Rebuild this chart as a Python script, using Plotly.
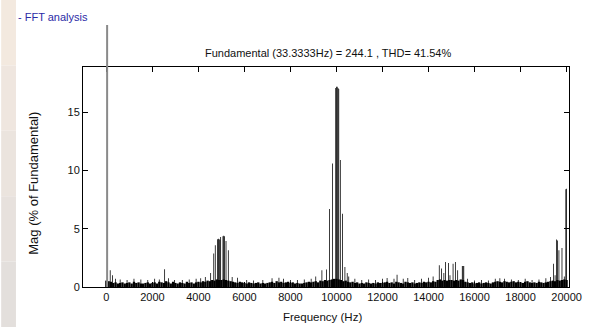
import plotly.graph_objects as go

# ---------------- data ----------------
FUND_FREQ = 33.3333
FUND_MAG = 100.0

# broadband noise floor, 100 Hz bins from 0 to 20000 Hz (% of fundamental)
floor_freq = [i * 100 for i in range(201)]
floor_mag = [
    0.55, 0.5, 0.45, 0.35, 0.4, 0.3, 0.35, 0.4, 0.3, 0.35,
    0.4, 0.3, 0.45, 0.35, 0.4, 0.3, 0.3, 0.35, 0.4, 0.3,
    0.35, 0.4, 0.3, 0.45, 0.4, 0.35, 0.5, 0.4, 0.3, 0.45,
    0.35, 0.3, 0.4, 0.35, 0.3, 0.45, 0.35, 0.4, 0.3, 0.4,
    0.45, 0.4, 0.5, 0.45, 0.55, 0.5, 0.6, 0.55, 0.65, 0.6,
    0.6, 0.65, 0.6, 0.55, 0.5, 0.45, 0.4, 0.35, 0.45, 0.4,
    0.35, 0.3, 0.4, 0.35, 0.3, 0.35, 0.4, 0.3, 0.35, 0.3,
    0.35, 0.4, 0.45, 0.35, 0.5, 0.4, 0.45, 0.35, 0.4, 0.45,
    0.35, 0.4, 0.3, 0.35, 0.3, 0.3, 0.35, 0.4, 0.45, 0.4,
    0.45, 0.5, 0.4, 0.55, 0.5, 0.6, 0.55, 0.6, 0.65, 0.7,
    0.7, 0.65, 0.6, 0.5, 0.55, 0.45, 0.4, 0.45, 0.35, 0.4,
    0.3, 0.35, 0.3, 0.4, 0.35, 0.3, 0.35, 0.3, 0.4, 0.35,
    0.35, 0.4, 0.45, 0.35, 0.4, 0.3, 0.45, 0.4, 0.35, 0.3,
    0.45, 0.4, 0.35, 0.4, 0.3, 0.35, 0.4, 0.35, 0.45, 0.4,
    0.45, 0.4, 0.5, 0.45, 0.6, 0.65, 0.55, 0.6, 0.55, 0.6,
    0.6, 0.55, 0.6, 0.55, 0.65, 0.6, 0.45, 0.4, 0.35, 0.4,
    0.3, 0.35, 0.4, 0.3, 0.35, 0.4, 0.35, 0.3, 0.4, 0.45,
    0.5, 0.45, 0.4, 0.5, 0.45, 0.4, 0.45, 0.5, 0.4, 0.45,
    0.4, 0.35, 0.45, 0.5, 0.4, 0.35, 0.4, 0.35, 0.45, 0.4,
    0.35, 0.4, 0.45, 0.5, 0.55, 0.5, 0.6, 0.55, 0.6, 0.65,
    0.6,
]

# individual harmonic lines (Hz, % of fundamental)
harm_freq = [
    167, 267, 400, 600, 900, 1200, 1500, 1800, 2100, 2300, 2533, 2700, 2967,
    3300, 3600, 3900, 4100, 4300, 4533, 4667, 4733,
    4833, 4867, 4900, 4933, 4967, 5067, 5100, 5133, 5200, 5300,
    5467, 5700, 6100, 6400, 6800, 7200, 7500, 7700, 8000, 8300, 8600, 8900,
    9100, 9367, 9567, 9700, 9833,
    9967, 10000, 10033, 10067, 10100, 10167, 10267,
    10367, 10467, 10533, 10800, 11100, 11400, 11700, 12000, 12200, 12500,
    12633, 12900, 13100, 13400, 13700, 14000, 14200,
    14467, 14567, 14667, 14733, 14867, 14933, 15067, 15167, 15267,
    15467, 15500, 15533, 15700, 16000, 16300, 16600, 16900, 17100, 17300,
    17600, 17900, 18200, 18500, 18800, 19100, 19300,
    19433, 19500, 19567, 19600, 19667, 19800, 19900, 19967, 20000,
]
harm_mag = [
    1.43, 1.0, 0.7, 0.65, 0.6, 0.7, 0.65, 0.6, 0.7, 0.65, 1.52, 0.75, 0.6,
    0.6, 0.65, 0.7, 0.75, 0.86, 1.2, 2.87, 3.58,
    4.1, 4.15, 4.1, 4.05, 4.3, 4.35, 4.4, 4.35, 3.95, 3.15,
    0.86, 0.8, 0.6, 0.55, 0.6, 0.75, 0.8, 0.7, 0.6, 0.6, 0.65, 0.7,
    0.9, 1.43, 1.5, 6.7, 10.6,
    17.1, 17.2, 17.2, 17.1, 17.0, 10.9, 6.3,
    1.72, 1.2, 0.9, 0.7, 0.6, 0.65, 0.6, 0.7, 0.77, 0.7,
    1.06, 0.7, 0.77, 0.6, 0.7, 0.8, 0.9,
    1.86, 1.58, 1.2, 2.15, 2.06, 1.0, 2.0, 2.15, 1.43,
    1.8, 1.8, 1.8, 0.7, 0.55, 0.6, 0.55, 0.7, 0.75, 0.7,
    0.65, 0.6, 0.7, 0.6, 0.65, 0.75, 0.85,
    2.0, 1.0, 4.07, 4.0, 3.15, 3.35, 0.9, 8.4, 8.45,
]

x_ticks = list(range(0, 20001, 2000))
y_ticks = [0, 5, 10, 15]

title_text = "Fundamental (33.3333Hz) = 244.1 , THD= 41.54%"
x_title = "Frequency (Hz)"
y_title = "Mag (% of Fundamental)"
panel_label = "- FFT analysis"

# ---------------- figure ----------------
FONT = "Liberation Sans, Arial, sans-serif"
BAR_COLOR = "rgba(0,0,0,0.995)"  # <1 opacity keeps sub-pixel bar widths

fig = go.Figure()
fig.add_trace(go.Bar(
    x=floor_freq, y=floor_mag, width=100,
    marker=dict(color=BAR_COLOR, line=dict(width=0)),
    hoverinfo="skip", showlegend=False,
))
fig.add_trace(go.Bar(
    x=harm_freq, y=harm_mag, width=FUND_FREQ + 0.1,
    marker=dict(color=BAR_COLOR, line=dict(width=0)),
    showlegend=False,
))

W, H = 594, 327
L, R, T, B = 83, 18, 67, 40
pw, ph = W - L - R, H - T - B

def px_x(p):
    return (p - L) / pw

def px_y(p):
    return (H - B - p) / ph

shapes = []
# faded background strip at left edge
strip_cols = ["#f3e9df", "#efe6df", "#ebe4de", "#e7e1dd", "#e3dfdc"]
n = len(strip_cols)
for i, c in enumerate(strip_cols):
    shapes.append(dict(
        type="rect", xref="paper", yref="paper",
        x0=px_x(0), x1=px_x(15),
        y0=px_y(H * (i + 1) / n), y1=px_y(H * i / n),
        fillcolor=c, line=dict(width=0), layer="below",
    ))
# fundamental bar (extends beyond axes)
shapes.append(dict(
    type="line", xref="x", yref="paper",
    x0=FUND_FREQ, x1=FUND_FREQ, y0=0, y1=px_y(25),
    line=dict(color="#8a8a8a", width=2), layer="above",
))

axis_common = dict(
    showline=True, linecolor="black", linewidth=1, mirror="ticks",
    ticks="inside", ticklen=5, tickcolor="black", tickwidth=1,
    showgrid=False, zeroline=False,
    tickfont=dict(family=FONT, size=11, color="#111"),
)

fig.update_layout(
    width=W, height=H,
    margin=dict(l=L, r=R, t=T, b=B, pad=0),
    paper_bgcolor="white", plot_bgcolor="white",
    barmode="overlay", bargap=0.1,
    xaxis=dict(range=[-1015, 20105], tickvals=x_ticks,
               ticktext=[str(v) for v in x_ticks], **axis_common),
    yaxis=dict(range=[0, 18.9], tickvals=y_ticks,
               ticktext=[str(v) for v in y_ticks], **axis_common),
    shapes=shapes,
    annotations=[
        dict(text=title_text, xref="paper", yref="paper",
             x=px_x(332), y=px_y(53), xanchor="center", yanchor="middle",
             showarrow=False, font=dict(family=FONT, size=11, color="#111")),
        dict(text=x_title, xref="paper", yref="paper",
             x=px_x(326), y=px_y(317), xanchor="center", yanchor="middle",
             showarrow=False, font=dict(family=FONT, size=11.5, color="#111")),
        dict(text=y_title, xref="paper", yref="paper", textangle=-90,
             x=px_x(32), y=px_y(183), xanchor="center", yanchor="middle",
             showarrow=False, font=dict(family=FONT, size=13, color="#111")),
        dict(text=panel_label, xref="paper", yref="paper",
             x=px_x(15), y=px_y(17), xanchor="left", yanchor="middle",
             showarrow=False, font=dict(family=FONT, size=11, color="#2b2ba6")),
    ],
)

fig.write_html("out.html")
